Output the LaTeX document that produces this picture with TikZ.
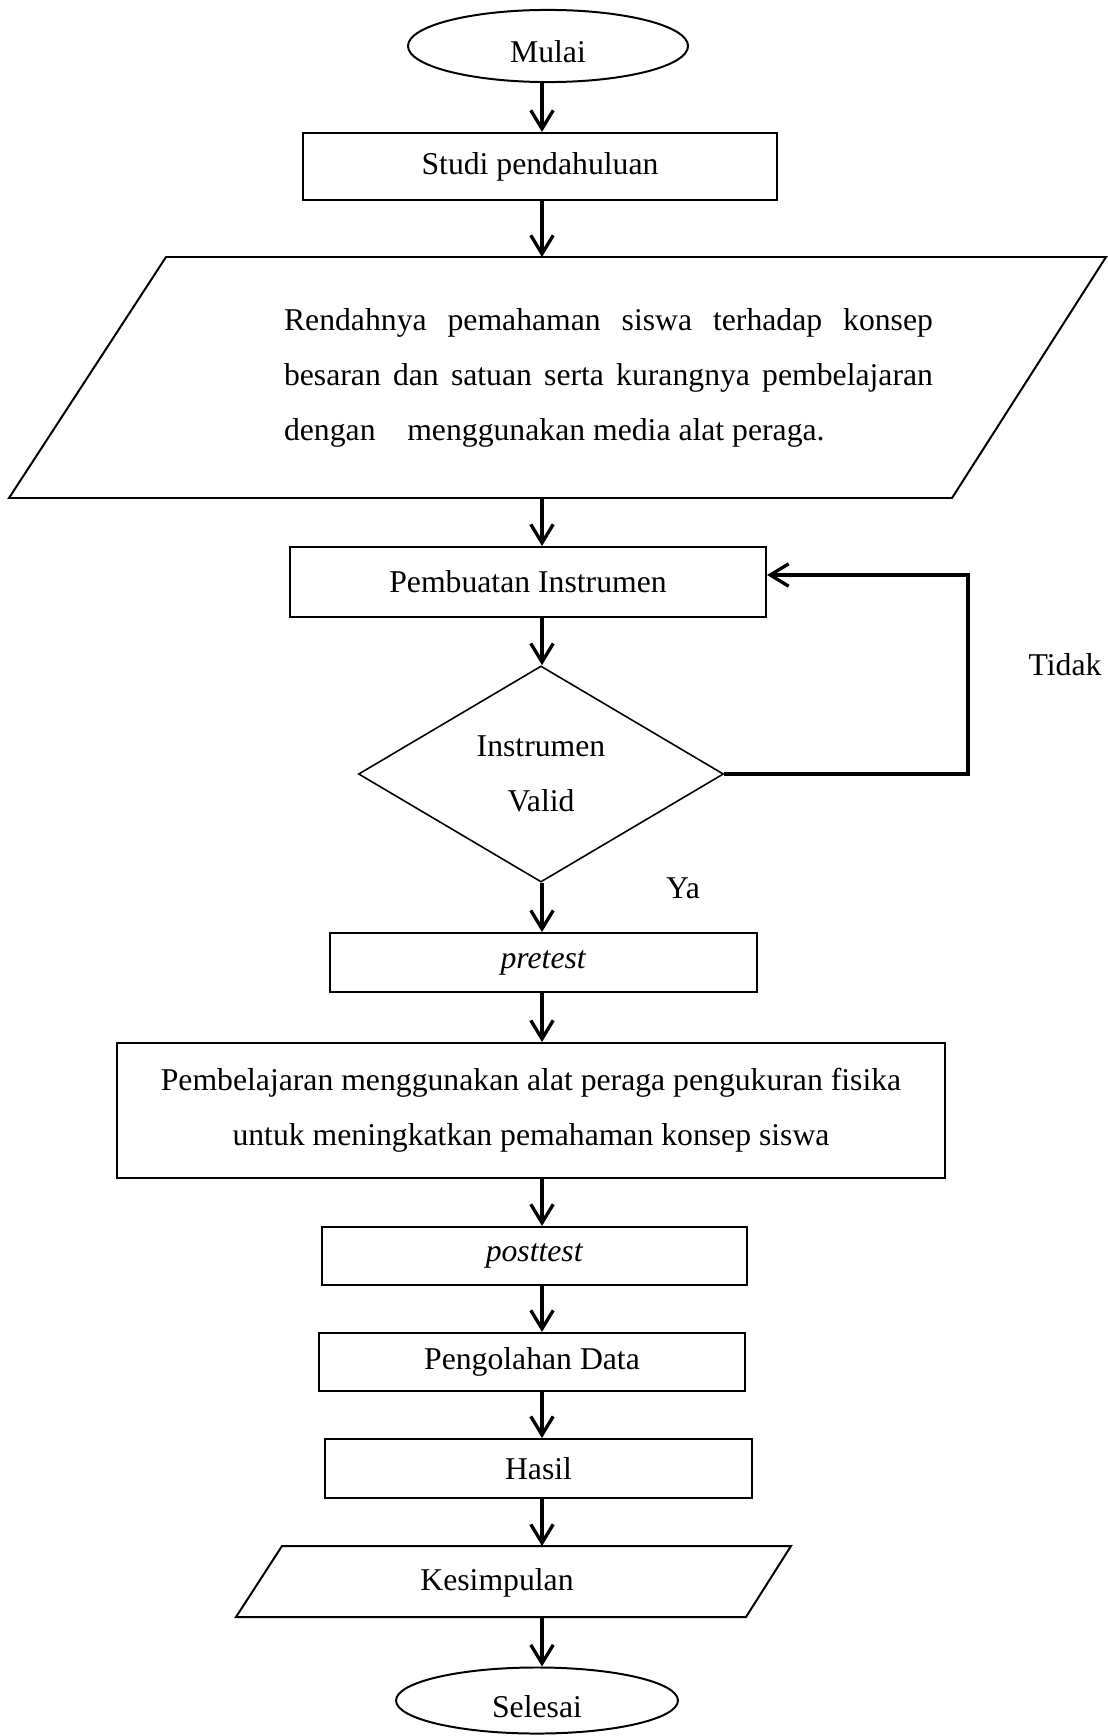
\documentclass[tikz,border=0pt]{standalone}
\usepackage{fontspec}
\setmainfont{Liberation Serif}
\usetikzlibrary{arrows.meta}
\usetikzlibrary{shapes.geometric}
\newlength{\barislebar}
\setlength{\barislebar}{245.6pt}
\tikzset{
    terminal/.style={draw, ellipse, line width=0.75pt, inner sep=0pt, text height=12.5pt, text depth=0pt},
    proses/.style={draw, rectangle, line width=0.75pt, inner sep=0pt, align=center},
    keputusan/.style={draw, diamond, line width=0.6pt, inner sep=0pt, align=center},
    panah/.style={-{Straight Barb[length=7pt,width=8.5pt]}, line width=1.25pt},
    garis/.style={line width=0.75pt, line join=miter}
}

\begin{document}
\begin{tikzpicture}[x=0.3785pt, y=-0.3785pt, font=\fontsize{12}{20.8}\selectfont]
  \useasboundingbox (0,0) rectangle (1108,1736);
  \coordinate (spine) at (542,0);
  % terminal dan proses
  \node[terminal, minimum width=106pt, minimum height=27.3pt] (mulai) at (548,46) {Mulai};
  \node[proses, minimum width=179.4pt, minimum height=25.4pt] (studi) at (540,166.5) {Studi pendahuluan};
  % rumusan masalah (jajaran genjang)
  \draw[garis] (166,257) -- (1106,257) -- (952,498) -- (9,498) -- cycle;
  \coordinate (rumusan atas) at (542,257);
  \coordinate (rumusan bawah) at (542,498);
  \node[align=left] (rumusan) at (608.5,378) {\makebox[\barislebar][s]{Rendahnya pemahaman siswa terhadap konsep}\\
    \makebox[\barislebar][s]{besaran dan satuan serta kurangnya pembelajaran}\\
    \makebox[\barislebar][l]{dengan\hspace{9pt} menggunakan media alat peraga.}};
  \node[proses, minimum width=180.2pt, minimum height=26.5pt] (buat) at (528,582) {Pembuatan Instrumen};
  \node[keputusan, minimum width=138.2pt, minimum height=81.8pt] (valid) at (541,774) {Instrumen\\Valid};
  \node[proses, minimum width=161.6pt, minimum height=22.3pt] (pretest) at (543.5,962.5) {\textit{pretest}};
  \node[proses, minimum width=313.4pt, minimum height=51.1pt] (belajar) at (531,1110.5) {Pembelajaran menggunakan alat peraga pengukuran fisika\\untuk meningkatkan pemahaman konsep siswa};
  \node[proses, minimum width=160.9pt, minimum height=22pt] (posttest) at (534.5,1256) {\textit{posttest}};
  \node[proses, minimum width=161.2pt, minimum height=22pt] (olah) at (532,1362) {Pengolahan Data};
  \node[proses, minimum width=161.6pt, minimum height=22.3pt] (hasil) at (538.5,1468.5) {Hasil};
  % kesimpulan (jajaran genjang)
  \draw[garis] (282,1546) -- (791,1546) -- (746,1617) -- (236,1617) -- cycle;
  \coordinate (kes atas) at (542,1546);
  \coordinate (kes bawah) at (542,1617);
  \node (kesimpulan) at (497,1583) {Kesimpulan};
  \node[terminal, minimum width=106.7pt, minimum height=25pt] (selesai) at (537,1700.5) {Selesai};
  % label
  \node (tidak) at (1065,665) {Tidak};
  \node (ya) at (683,888) {Ya};
  % panah
  \draw[panah] (mulai.south -| spine) -- (studi.north -| spine);
  \draw[panah] (studi.south -| spine) -- (rumusan atas);
  \draw[panah] (rumusan bawah) -- (buat.north -| spine);
  \draw[panah] (buat.south -| spine) -- (valid.north -| spine);
  \draw[panah] (valid.south -| spine) -- (pretest.north -| spine);
  \draw[panah] (pretest.south -| spine) -- (belajar.north -| spine);
  \draw[panah] (belajar.south -| spine) -- (posttest.north -| spine);
  \draw[panah] (posttest.south -| spine) -- (olah.north -| spine);
  \draw[panah] (olah.south -| spine) -- (hasil.north -| spine);
  \draw[panah] (hasil.south -| spine) -- (kes atas);
  \draw[panah] (kes bawah) -- (selesai.north -| spine);
  % umpan balik
  \coordinate (kanan bawah) at (968,774);
  \coordinate (kanan atas) at (968,575);
  \draw[panah] (valid.east) -- (kanan bawah) -- (kanan atas) -- (kanan atas -| buat.east);
\end{tikzpicture}
\end{document}
